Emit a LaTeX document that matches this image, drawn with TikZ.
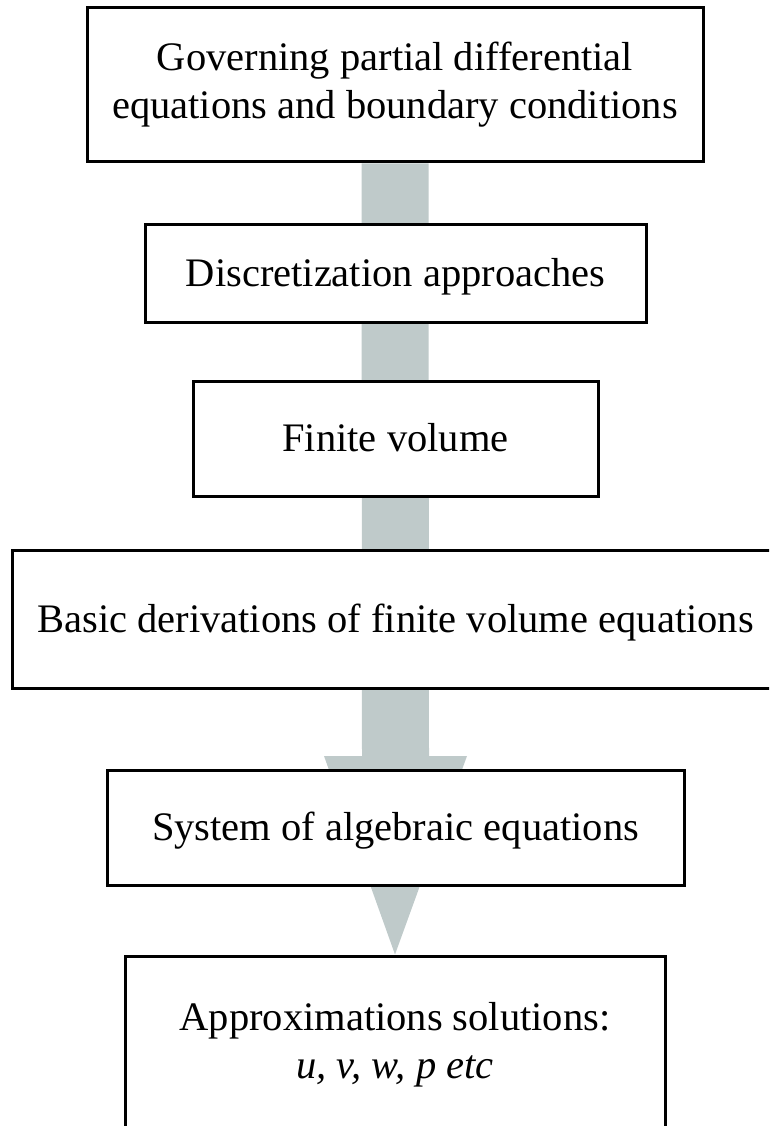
\documentclass[tikz,border=0pt]{standalone}
\usepackage{fontspec}
\setmainfont{Liberation Serif}
\usetikzlibrary{calc}
\definecolor{arrowgray}{RGB}{191,202,202}
\pgfdeclarelayer{background}
\pgfsetlayers{background,main}
\begin{document}
\begin{tikzpicture}[x=1pt,y=-1pt,
  box/.style={draw=black, line width=3pt, fill=white, inner sep=0pt, align=center,
    font=\fontsize{40.5}{48}\selectfont},
  oneline/.style={text height=26.8pt, text depth=0pt}]
\useasboundingbox (0,0) rectangle (769,1126);
\clip (0,0) rectangle (769,1126);
\node[box, minimum width=616pt, minimum height=154pt] (b1) at (395,85)
  {Governing partial differential\\equations and boundary conditions};
\node[box, oneline, minimum width=501pt, minimum height=98pt] (b2) at (395.5,273)
  {Discretization approaches};
\node[box, oneline, minimum width=405pt, minimum height=115pt] (b3) at (395.5,438.5)
  {Finite volume};
\node[box, oneline, minimum width=767pt, minimum height=138pt] (b4) at (395.5,619)
  {Basic derivations of finite volume equations};
\node[box, oneline, minimum width=577pt, minimum height=115pt] (b5) at (395.5,827.5)
  {System of algebraic equations};
\node[box, minimum width=540pt, minimum height=178pt] (b6) at (395,1045)
  {Approximations solutions:\\\textit{u, v, w, p etc}};
\coordinate (hb) at (395.5,756);
\begin{pgfonlayer}{background}
\fill[arrowgray] ($(b1.south)+(-33.5,0)$) -- ($(hb)+(-33.5,0)$) -- ($(hb)+(-71.5,0)$)
  -- (b6.north) -- ($(hb)+(71.5,0)$) -- ($(hb)+(33.5,0)$) -- ($(b1.south)+(33.5,0)$) -- cycle;
\end{pgfonlayer}
\end{tikzpicture}
\end{document}
